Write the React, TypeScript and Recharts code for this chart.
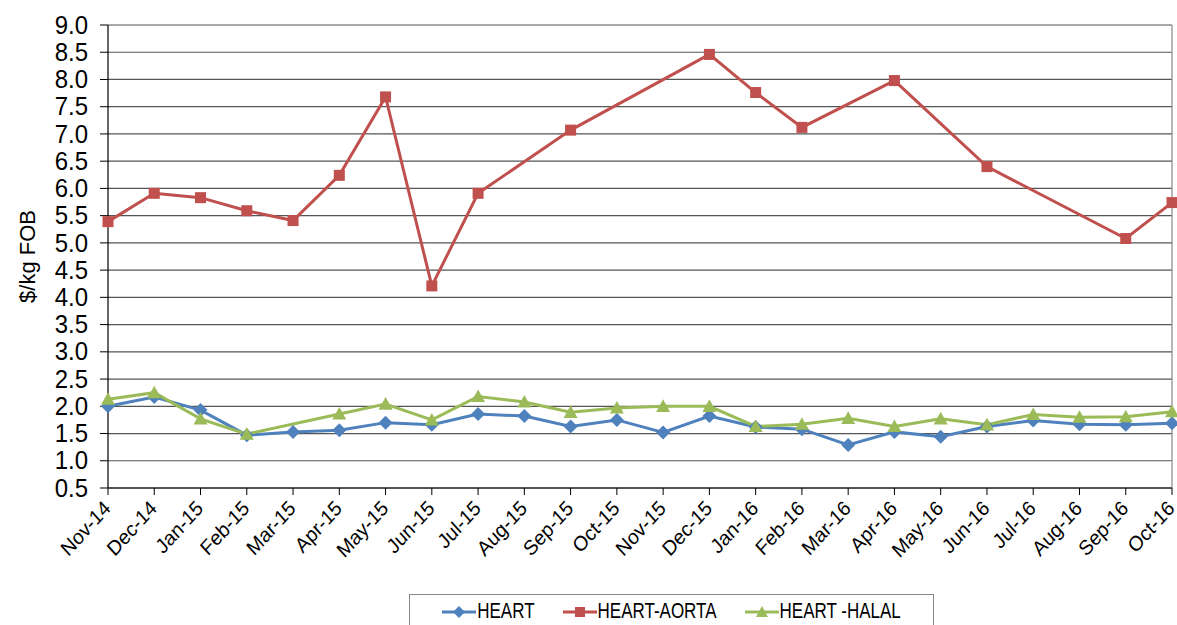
import React from 'react';
import { LineChart, Line, XAxis, YAxis, CartesianGrid, Legend, ReferenceLine } from 'recharts';

const months = [
  'Nov-14', 'Dec-14', 'Jan-15', 'Feb-15', 'Mar-15', 'Apr-15', 'May-15', 'Jun-15',
  'Jul-15', 'Aug-15', 'Sep-15', 'Oct-15', 'Nov-15', 'Dec-15', 'Jan-16', 'Feb-16',
  'Mar-16', 'Apr-16', 'May-16', 'Jun-16', 'Jul-16', 'Aug-16', 'Sep-16', 'Oct-16',
];

const heart = [
  2.0, 2.17, 1.93, 1.47, 1.53, 1.56, 1.7, 1.66, 1.86, 1.82, 1.63, 1.75,
  1.52, 1.82, 1.62, 1.58, 1.29, 1.53, 1.44, 1.63, 1.74, 1.67, 1.66, 1.69,
];

const heartAorta = [
  5.39, 5.91, 5.83, 5.59, 5.41, 6.24, 7.68, 4.21, 5.91, null, 7.07, null,
  null, 8.46, 7.76, 7.12, null, 7.98, null, 6.4, null, null, 5.08, 5.74,
];

const heartHalal = [
  2.13, 2.25, 1.77, 1.49, null, 1.86, 2.04, 1.75, 2.18, 2.08, 1.89, 1.97,
  2.0, 2.0, 1.63, 1.67, 1.78, 1.63, 1.77, 1.66, 1.85, 1.8, 1.81, 1.9,
];

const yTicks = [0.5, 1, 1.5, 2, 2.5, 3, 3.5, 4, 4.5, 5, 5.5, 6, 6.5, 7, 7.5, 8, 8.5, 9];

const data = months.map((m, i) => ({
  month: m,
  heart: heart[i],
  aorta: heartAorta[i],
  halal: heartHalal[i],
}));

const BLUE = '#4F81BD';
const RED = '#C0504D';
const GREEN = '#9BBB59';
const FONT = "'Liberation Sans', Arial, sans-serif";

const Diamond = (p: any) => {
  const { cx, cy, fill } = p;
  if (cx == null || cy == null || p.value == null) return null;
  const s = 7;
  return <polygon key={p.index} points={`${cx},${cy - s} ${cx + s},${cy} ${cx},${cy + s} ${cx - s},${cy}`} fill={fill} />;
};

const Square = (p: any) => {
  const { cx, cy, fill } = p;
  if (cx == null || cy == null || p.value == null) return null;
  const s = 5.5;
  return <rect key={p.index} x={cx - s} y={cy - s} width={2 * s} height={2 * s} fill={fill} />;
};

const Triangle = (p: any) => {
  const { cx, cy, fill } = p;
  if (cx == null || cy == null || p.value == null) return null;
  const s = 7;
  return <polygon key={p.index} points={`${cx},${cy - s} ${cx + s},${cy + s * 0.8} ${cx - s},${cy + s * 0.8}`} fill={fill} />;
};

const YTick = (p: any) => {
  const { x, y, payload } = p;
  return (
    <g transform={`translate(${x},${y})`}>
      <text transform="scale(1,1.08)" dy={8} textAnchor="end" fontSize={24} fontFamily={FONT} fill="#000">
        {payload.value.toFixed(1)}
      </text>
    </g>
  );
};

const XTick = (p: any) => {
  const { x, y, payload } = p;
  return (
    <g transform={`translate(${x - 4},${y + 4})`}>
      <text transform="scale(1,1.1) rotate(-45)" textAnchor="end" dy={11} fontSize={19} fontFamily={FONT} fill="#000">
        {payload.value}
      </text>
    </g>
  );
};

const legendItems = [
  { name: 'HEART', color: BLUE, mark: 'diamond' },
  { name: 'HEART-AORTA', color: RED, mark: 'square' },
  { name: 'HEART -HALAL', color: GREEN, mark: 'triangle' },
];

const LegendBox = () => (
  <div
    style={{
      border: '1px solid #888',
      background: '#fff',
      height: 36,
      boxSizing: 'border-box',
      display: 'flex',
      alignItems: 'center',
      justifyContent: 'center',
      gap: 28,
      fontFamily: FONT,
      fontSize: 17,
    }}
  >
    {legendItems.map((it) => (
      <div key={it.name} style={{ display: 'flex', alignItems: 'center' }}>
        <svg width={34} height={16}>
          <line x1={0} y1={8} x2={34} y2={8} stroke={it.color} strokeWidth={3} />
          {it.mark === 'diamond' && <polygon points="17,2 23,8 17,14 11,8" fill={it.color} />}
          {it.mark === 'square' && <rect x={12} y={3} width={10} height={10} fill={it.color} />}
          {it.mark === 'triangle' && <polygon points="17,2 23,13 11,13" fill={it.color} />}
        </svg>
        <span style={{ display: 'inline-block', transform: 'scaleY(1.25)', marginLeft: 1 }}>{it.name}</span>
      </div>
    ))}
  </div>
);

export default function App() {
  return (
    <div style={{ position: 'absolute', left: 0, top: 0, background: '#fff' }}>
      <LineChart width={1177} height={625} data={data} margin={{ top: 25, right: 5, left: 0, bottom: 0 }}>
        <CartesianGrid vertical={false} stroke="#555" strokeWidth={1.2} />
        <XAxis
          dataKey="month"
          height={137}
          interval={0}
          tick={<XTick />}
          tickSize={7}
          axisLine={{ stroke: '#000', strokeWidth: 1.2 }}
          tickLine={{ stroke: '#000' }}
        />
        <YAxis
          domain={[0.5, 9]}
          ticks={yTicks}
          width={108}
          tick={<YTick />}
          tickSize={8}
          tickMargin={12}
          interval={0}
          axisLine={{ stroke: '#000', strokeWidth: 1.2 }}
          tickLine={{ stroke: '#000' }}
          label={{
            value: '$/kg FOB',
            angle: -90,
            position: 'insideLeft',
            dx: 22,
            style: { fontFamily: FONT, fontSize: 22, fill: '#000', textAnchor: 'middle' },
          }}
        />
        <ReferenceLine x="Oct-16" stroke="#888" strokeWidth={1.2} />
        <Legend
          layout="horizontal"
          verticalAlign="middle"
          align="center"
          wrapperStyle={{ left: 409, top: 594, width: 525 }}
          content={<LegendBox />}
        />
        <Line type="linear" dataKey="heart" name="HEART" stroke={BLUE} strokeWidth={3} dot={<Diamond fill={BLUE} />} activeDot={false} connectNulls isAnimationActive={false} />
        <Line type="linear" dataKey="aorta" name="HEART-AORTA" stroke={RED} strokeWidth={3} dot={<Square fill={RED} />} activeDot={false} connectNulls isAnimationActive={false} />
        <Line type="linear" dataKey="halal" name="HEART -HALAL" stroke={GREEN} strokeWidth={3} dot={<Triangle fill={GREEN} />} activeDot={false} connectNulls isAnimationActive={false} />
      </LineChart>
    </div>
  );
}
